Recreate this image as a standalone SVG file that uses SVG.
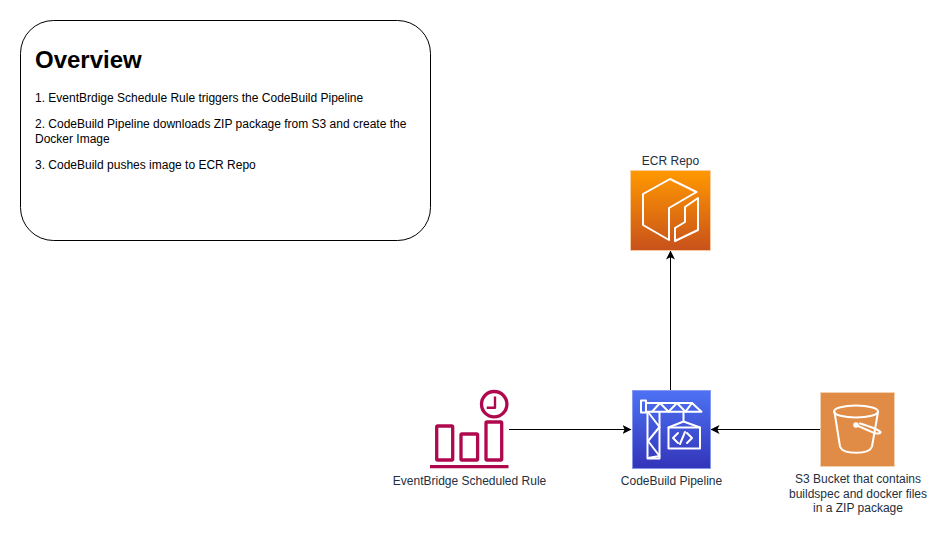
<svg xmlns="http://www.w3.org/2000/svg" width="947" height="537" viewBox="0 0 947 537">
<style>
text{font-family:"Liberation Sans",Arial,sans-serif;font-size:12px;fill:#232f3e;text-anchor:middle}
.n{fill:#000;text-anchor:start}
.w{fill:none;stroke:#fff;stroke-width:2;stroke-linejoin:round;stroke-linecap:round}
.r{fill:none;stroke:#b0084d;stroke-width:3.300;stroke-linejoin:round}
.c{fill:none;stroke:#000;stroke-width:1}
</style>
<defs>
<linearGradient id="g1" x1="0" y1="1" x2="0" y2="0"><stop offset="0" stop-color="#c8511b"/><stop offset="1" stop-color="#ff9900"/></linearGradient>
<linearGradient id="g2" x1="0" y1="1" x2="0" y2="0"><stop offset="0" stop-color="#3334b9"/><stop offset="1" stop-color="#4d72f3"/></linearGradient>
<marker id="a" markerUnits="userSpaceOnUse" markerWidth="10" markerHeight="10" refX="8.500" refY="4.500" orient="auto"><path d="M0 0L9 4.500L0 9L2.200 4.500Z" fill="#000"/></marker>
</defs>
<g id="connectors">
<path class="c" d="M509 429.500H631" marker-end="url(#a)"/>
<path class="c" d="M821 429.500H711" marker-end="url(#a)"/>
<path class="c" d="M670.500 390V251" marker-end="url(#a)"/>
</g>
<g id="overview">
<rect x="20.500" y="20.500" width="410" height="220" rx="33" fill="#fff" stroke="#000" stroke-width="1"/>
<text class="n" x="35" y="68" style="font-size:24px;font-weight:700">Overview</text>
<text class="n" x="35" y="102">1. EventBrdige Schedule Rule triggers the CodeBuild Pipeline</text>
<text class="n" x="35" y="128">2. CodeBuild Pipeline downloads ZIP package from S3 and create the</text>
<text class="n" x="35" y="143">Docker Image</text>
<text class="n" x="35" y="169">3. CodeBuild pushes image to ECR Repo</text>
</g>
<g id="ecr">
<rect x="630.500" y="170.500" width="80" height="80" fill="url(#g1)" stroke="#fbd0a8" stroke-width=".8"/>
<path class="w" d="M696.500 192L670 179L643 194V225L669 240V208L696.500 192"/>
<path class="w" d="M698 198V230L675 241V228L685 222V207Z"/>
<text x="670.500" y="165">ECR Repo</text>
</g>
<g id="codebuild">
<rect x="632.500" y="390.500" width="78" height="78" fill="url(#g2)" stroke="#7f95ee" stroke-width=".8"/>
<g class="w">
<path d="M641 400.500H646V412.500H641ZM646 403H692L701.500 411.700H646M647.500 411.700V458.500H659.500V411.700"/>
<path d="M648 412L659.500 427L648 441L659.500 456L648 458M652 411.700L660 403L668.500 411.700L677 403L685.500 411.700L692 403"/>
<path d="M683.500 411.700V421.500M668.500 427.500L683.500 421.500L700 427.500"/>
<rect x="668.500" y="427.500" width="31.500" height="21"/>
<path d="M678 433L673 438L678 443M687 433L692 438L687 443M685 432L680 444"/>
</g>
<text x="671.500" y="485">CodeBuild Pipeline</text>
</g>
<g id="rule">
<rect x="436.700" y="426" width="16" height="34" rx="1" class="r"/>
<rect x="461" y="434" width="16.600" height="26" rx="1" class="r"/>
<rect x="486" y="422" width="15.700" height="38" rx="1" class="r"/>
<path d="M430 466.700H508.500" stroke="#b0084d" stroke-width="3.300" fill="none"/>
<circle cx="494.200" cy="404.200" r="12.700" class="r"/>
<path d="M495 396.500V407.700H486.700" class="r" style="stroke-width:2.400"/>
<text x="469.500" y="485">EventBridge Scheduled Rule</text>
</g>
<g id="s3">
<rect x="820.500" y="392.500" width="74" height="74" fill="#e08c46" stroke="#f4d3b3" stroke-width=".8"/>
<g class="w">
<ellipse cx="856" cy="411.500" rx="22" ry="6"/>
<path d="M834.500 412L840 446.500Q842 452.700 856.500 452.700Q870 452.700 872 446.500L878 412"/>
<path d="M857 425.500L875 433.300Q881 434 880.500 432Q878 429 860 423.500"/>
<circle cx="856" cy="425" r="1.800" fill="#fff"/>
</g>
<text x="858" y="483">S3 Bucket that contains</text>
<text x="858" y="498">buildspec and docker files</text>
<text x="858" y="512">in a ZIP package</text>
</g>
</svg>
